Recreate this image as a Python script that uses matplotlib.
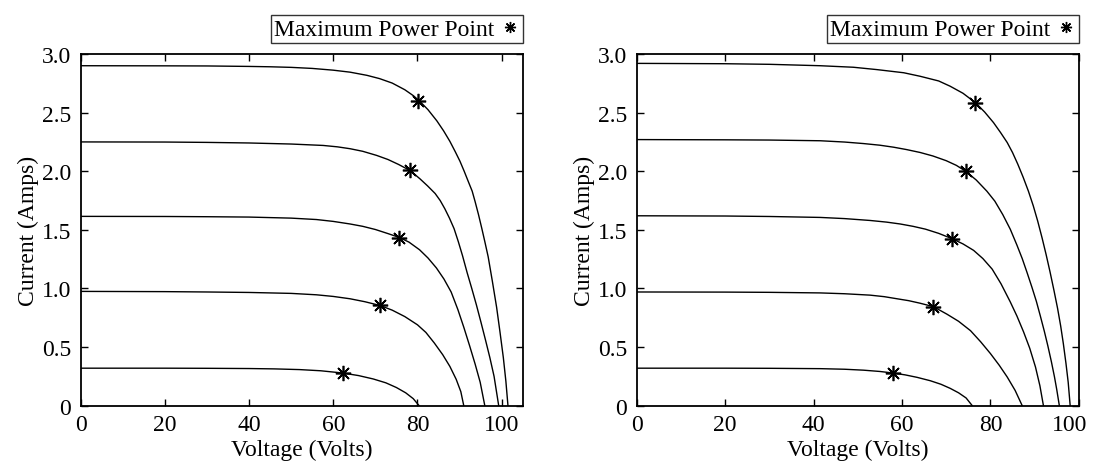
import matplotlib
matplotlib.use("Agg")
import matplotlib.pyplot as plt
from matplotlib.lines import Line2D
import matplotlib.transforms as mtransforms

plt.rcParams['font.family'] = ['Liberation Serif', 'DejaVu Serif']

# ---------------- data ----------------
# Left panel: voltage (V) / current (A) samples along each I-V curve
left_v1 = [0, 20, 30, 40, 45, 50, 55, 60, 64, 68, 71, 74, 77, 79, 80.6, 82.5, 84.6, 86.2, 87.7,
           89.0, 90.1, 91.1, 92.1, 93.0, 93.7, 94.5, 95.3, 96.0, 96.8, 97.8, 98.8, 99.6, 100.4, 101.0, 101.5]
left_i1 = [2.900, 2.899, 2.898, 2.894, 2.891, 2.886, 2.877, 2.862, 2.845, 2.818, 2.790, 2.752, 2.695,
           2.645, 2.595, 2.525, 2.430, 2.345, 2.255, 2.165, 2.085, 2.000, 1.910, 1.830, 1.740, 1.630,
           1.510, 1.400, 1.270, 1.060, 0.840, 0.630, 0.410, 0.210, 0]
left_v2 = [0, 20, 30, 40, 50, 57.6, 61, 64, 67, 70.3, 73, 75.5, 78.3, 80.6, 82.4, 84.2, 85.4, 86.5,
           87.6, 88.7, 89.7, 90.7, 91.8, 92.9, 94.0, 95.1, 96.2, 97.2, 98.2, 99.3]
left_i2 = [2.250, 2.249, 2.246, 2.241, 2.232, 2.220, 2.208, 2.192, 2.170, 2.135, 2.100, 2.058, 2.005,
           1.935, 1.875, 1.810, 1.750, 1.680, 1.600, 1.510, 1.400, 1.280, 1.135, 1.000, 0.860, 0.710,
           0.555, 0.410, 0.250, 0]
left_v3 = [0, 20, 30, 40, 50, 56, 60, 64, 67, 70, 73, 75.7, 78, 80.5, 82.5, 84.5, 86.3, 88.0, 89.6,
           91.0, 92.4, 93.7, 94.9, 96.0]
left_i3 = [1.615, 1.614, 1.612, 1.609, 1.600, 1.588, 1.572, 1.550, 1.530, 1.503, 1.468, 1.435, 1.395,
           1.330, 1.260, 1.175, 1.080, 0.970, 0.820, 0.670, 0.510, 0.355, 0.200, 0]
left_v4 = [0, 20, 30, 40, 50, 56, 60, 64, 67.5, 71.1, 74, 77, 80, 82, 84, 86, 87.7, 89.2, 90.3, 91.0]
left_i4 = [0.975, 0.973, 0.970, 0.966, 0.958, 0.946, 0.932, 0.912, 0.887, 0.855, 0.815, 0.760,
           0.690, 0.625, 0.535, 0.435, 0.335, 0.225, 0.120, 0]
left_v5 = [0, 20, 30, 40, 46, 52, 57, 62.2, 66, 69.5, 72.5, 75.0, 77.2, 79.0, 80.4]
left_i5 = [0.320, 0.320, 0.319, 0.317, 0.314, 0.308, 0.298, 0.279, 0.257, 0.228, 0.195, 0.155,
           0.110, 0.060, 0]
left_mpp_v = [80.2, 78.3, 75.7, 71.1, 62.2]
left_mpp_i = [2.595, 2.01, 1.43, 0.855, 0.279]

# Right panel
right_v1 = [0, 20, 30, 41.5, 49.0, 54.3, 60.4, 64.1, 68.3, 70.9, 73.8, 76.6, 78.7, 80.7, 82.3, 83.8,
            85.0, 86.2, 87.4, 88.6, 89.7, 90.7, 91.7, 92.6, 93.5, 94.4, 95.2, 95.9, 96.5, 97.1, 97.6, 98.05]
right_i1 = [2.920, 2.917, 2.912, 2.900, 2.887, 2.867, 2.840, 2.810, 2.770, 2.725, 2.665, 2.585,
            2.505, 2.415, 2.330, 2.245, 2.160, 2.060, 1.950, 1.830, 1.705, 1.575, 1.430, 1.290,
            1.140, 0.980, 0.830, 0.680, 0.530, 0.360, 0.200, 0]
right_v2 = [0, 20, 30, 41.5, 47, 51.3, 55, 58.1, 61, 64.1, 67, 70, 72.3, 74.4, 76.8, 79.2, 81.0, 82.8,
            84.5, 86.0, 87.2, 88.3, 89.4, 90.4, 91.3, 92.2, 93.0, 93.8, 94.5, 95.0, 95.6]
right_i2 = [2.270, 2.268, 2.266, 2.260, 2.249, 2.236, 2.222, 2.205, 2.185, 2.160, 2.130, 2.090,
            2.050, 2.000, 1.925, 1.830, 1.745, 1.630, 1.505, 1.370, 1.255, 1.135, 1.010, 0.890,
            0.765, 0.635, 0.510, 0.375, 0.245, 0.140, 0]
right_v3 = [0, 20, 30, 41.5, 47, 52.8, 56.5, 59.6, 62.5, 65.3, 68.3, 71.3, 73.8, 76.2, 78.3, 80.4,
            82.4, 84.5, 86.0, 87.5, 88.9, 90.2, 91.2, 92.0]
right_i3 = [1.620, 1.618, 1.614, 1.606, 1.596, 1.580, 1.566, 1.550, 1.530, 1.506, 1.470, 1.425,
            1.380, 1.325, 1.255, 1.165, 1.040, 0.885, 0.765, 0.630, 0.490, 0.330, 0.170, 0]
right_v4 = [0, 20, 30, 41.5, 47, 52.8, 56, 58.9, 61.5, 64, 67.1, 70.2, 72.8, 75.5, 77.8, 80.0, 82.0,
            83.8, 85.6, 87.2]
right_i4 = [0.970, 0.969, 0.967, 0.962, 0.955, 0.943, 0.930, 0.912, 0.896, 0.875, 0.845, 0.780,
            0.720, 0.640, 0.545, 0.445, 0.345, 0.245, 0.130, 0]
right_v5 = [0, 20, 30, 41.5, 47, 51.3, 55, 57.9, 60.7, 63.4, 66.4, 68.8, 70.9, 72.8, 74.5, 75.9]
right_i5 = [0.320, 0.320, 0.319, 0.316, 0.311, 0.303, 0.292, 0.279, 0.263, 0.242, 0.213, 0.183,
            0.148, 0.110, 0.066, 0]
right_mpp_v = [76.6, 74.4, 71.3, 67.1, 57.9]
right_mpp_i = [2.585, 2.0, 1.425, 0.845, 0.278]

x_ticks = [0, 20, 40, 60, 80, 100]
y_ticks = [0, 0.5, 1.0, 1.5, 2.0, 2.5, 3.0]
y_tick_labels = ['0', '0.5', '1.0', '1.5', '2.0', '2.5', '3.0']
x_label = 'Voltage (Volts)'
y_label = 'Current (Amps)'
legend_label = 'Maximum Power Point'
left_xlim = 105
right_xlim = 100

# ---------------- figure ----------------
W, H = 1093, 464
fig = plt.figure(figsize=(W / 100, H / 100), dpi=100)

FS = 17
STAR = (8, 2, 0)

def make_panel(rect, curves_v, curves_i, mpp_v, mpp_i, xmax):
    ax = fig.add_axes(rect)
    for v, i in zip(curves_v, curves_i):
        ax.plot(v, i, color='black', lw=1.0, solid_joinstyle='round')
    ax.plot(mpp_v, mpp_i, linestyle='none', marker=STAR, color='black',
            markersize=11, markeredgewidth=1.2)
    ax.set_xlim(0, xmax)
    ax.set_ylim(0, 3.0)
    ax.set_xticks(x_ticks)
    ax.set_xticklabels([str(t) for t in x_ticks])
    ax.set_yticks(y_ticks)
    ax.set_yticklabels(y_tick_labels)
    ax.tick_params(direction='in', length=5, width=1, top=True, right=True,
                   labelsize=FS, colors='black')
    ax.tick_params(axis='x', pad=6)
    ax.tick_params(axis='y', pad=7)
    for s in ax.spines.values():
        s.set_linewidth(1.3)
        s.set_color('black')
    ax.set_xlabel(x_label, fontsize=FS, labelpad=3)
    ax.set_ylabel(y_label, fontsize=FS, labelpad=2)
    handle = Line2D([], [], linestyle='none', marker=STAR, color='black',
                    markersize=8, markeredgewidth=1.0)
    leg = ax.legend([handle], [legend_label], loc='lower right',
                    bbox_to_anchor=(1.0, 1.03), markerfirst=False,
                    fontsize=FS, frameon=True, fancybox=False, borderpad=0.15,
                    handlelength=0.8, handletextpad=0.25, borderaxespad=0.0)
    leg.get_frame().set_edgecolor('black')
    leg.get_frame().set_linewidth(1.0)
    return ax

bottom = (H - 406.7) / H
height = (406.7 - 55) / H
width = 442 / W

axL = make_panel([80.7 / W, bottom, width, height],
                 [left_v1, left_v2, left_v3, left_v4, left_v5],
                 [left_i1, left_i2, left_i3, left_i4, left_i5],
                 left_mpp_v, left_mpp_i, left_xlim)
axR = make_panel([636.8 / W, bottom, width, height],
                 [right_v1, right_v2, right_v3, right_v4, right_v5],
                 [right_i1, right_i2, right_i3, right_i4, right_i5],
                 right_mpp_v, right_mpp_i, right_xlim)

# the last tick label of the right panel sits slightly left of its tick
last = axR.get_xticklabels()[-1]
last.set_transform(last.get_transform() +
                   mtransforms.ScaledTranslation(-9 / 100, 0, fig.dpi_scale_trans))

fig.savefig('out.png', dpi=100, facecolor='white')
